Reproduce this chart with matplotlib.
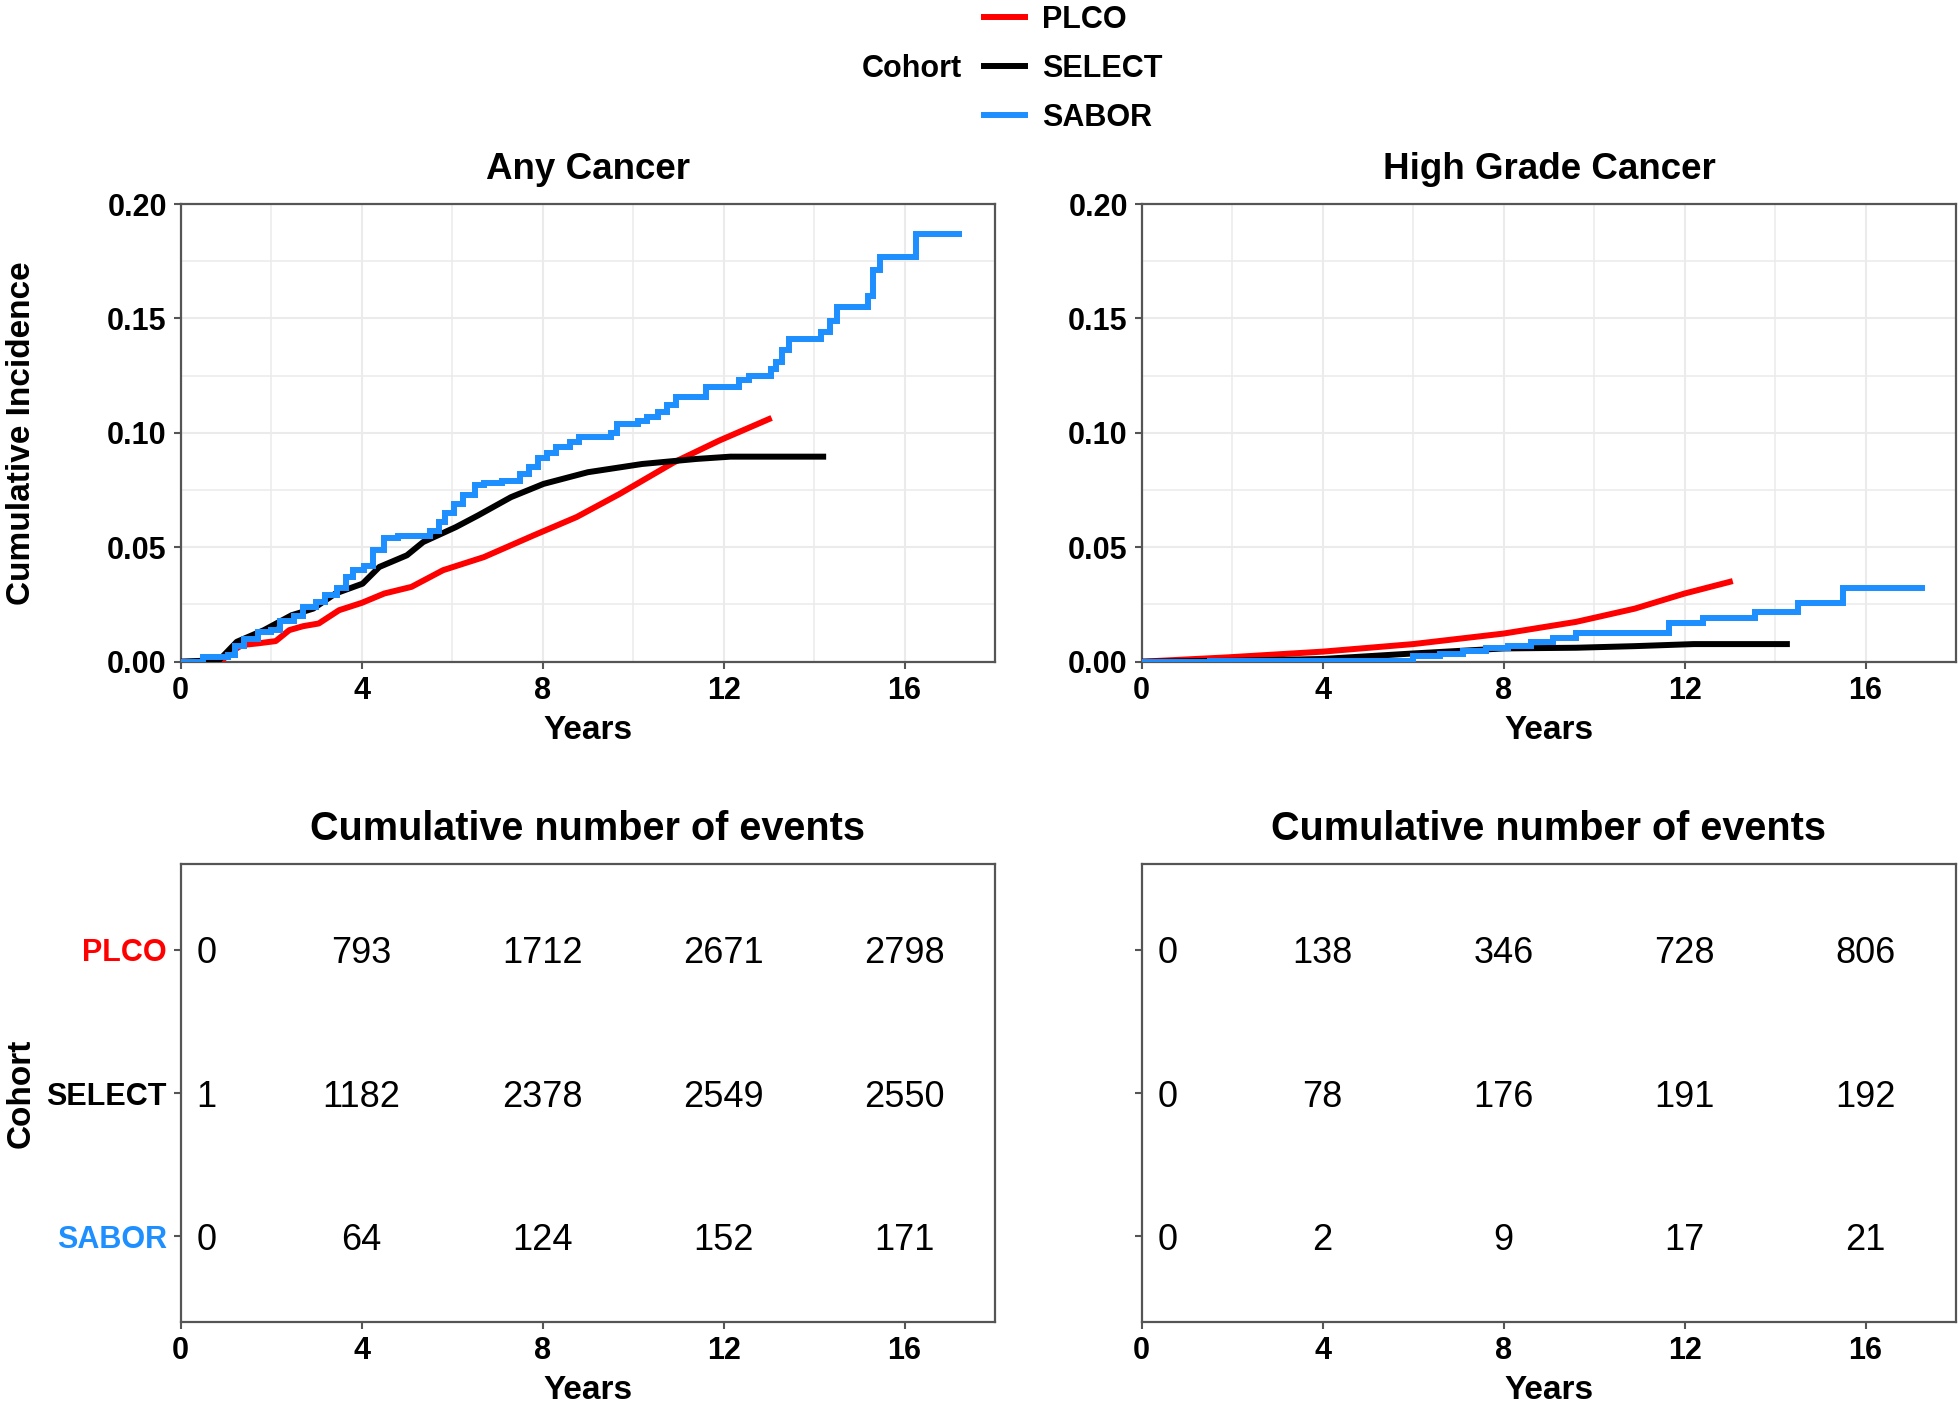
import matplotlib
matplotlib.use("Agg")
import matplotlib.pyplot as plt
from matplotlib.ticker import MultipleLocator

plt.rcParams['font.family'] = ['Liberation Sans', 'DejaVu Sans']

# ---------------- data ----------------
cohorts = ["PLCO", "SELECT", "SABOR"]
colors = {"PLCO": "#FF0000", "SELECT": "#000000", "SABOR": "#1E8FFF"}

# Any cancer cumulative incidence
plco_any_t = [0, 0.9, 1.05, 1.36, 1.7, 2.1, 2.4, 2.7, 3.05, 3.5, 4.0, 4.5, 5.1, 5.8, 6.7, 7.8, 8.75, 9.7, 10.9, 11.9, 13.0]
plco_any_y = [0, 0, 0.0036, 0.0073, 0.008, 0.009, 0.0138, 0.0155, 0.0167, 0.0225, 0.0257, 0.0298, 0.0327, 0.040, 0.0457, 0.0552, 0.0632, 0.0733, 0.0871, 0.0966, 0.106]

select_any_t = [0, 0.85, 1.24, 1.84, 2.45, 2.93, 3.42, 4.02, 4.39, 5.0, 5.36, 6.08, 6.57, 7.3, 8.02, 9.0, 10.2, 11.4, 12.15, 14.2]
select_any_y = [0, 0.0007, 0.0087, 0.0138, 0.0203, 0.0232, 0.0298, 0.0341, 0.0414, 0.0465, 0.0523, 0.0588, 0.0639, 0.0719, 0.0777, 0.0828, 0.0864, 0.0886, 0.0896, 0.0896]

sabor_any_t = [0, 0.5, 1.05, 1.2, 1.4, 1.7, 2.0, 2.2, 2.5, 2.7, 3.0, 3.2, 3.45, 3.65, 3.8, 4.05, 4.25, 4.5, 4.8, 5.5, 5.7, 5.85, 6.05, 6.25, 6.5, 6.7, 7.1, 7.5, 7.7, 7.9, 8.1, 8.3, 8.6, 8.8, 9.5, 9.65, 10.1, 10.3, 10.55, 10.75, 10.95, 11.6, 12.35, 12.55, 13.05, 13.15, 13.3, 13.45, 14.15, 14.35, 14.5, 15.2, 15.3, 15.45, 16.25, 17.2]
sabor_any_y = [0, 0.002, 0.003, 0.007, 0.010, 0.013, 0.014, 0.018, 0.020, 0.024, 0.026, 0.029, 0.032, 0.037, 0.040, 0.042, 0.049, 0.054, 0.055, 0.057, 0.061, 0.065, 0.069, 0.073, 0.077, 0.078, 0.079, 0.082, 0.085, 0.089, 0.091, 0.094, 0.096, 0.098, 0.100, 0.104, 0.105, 0.107, 0.109, 0.112, 0.1155, 0.120, 0.123, 0.125, 0.128, 0.131, 0.136, 0.141, 0.144, 0.149, 0.155, 0.160, 0.171, 0.177, 0.187, 0.187]

# High grade cumulative incidence
plco_hg_t = [0, 1.9, 4.0, 6.0, 8.0, 9.6, 10.9, 12.0, 13.0]
plco_hg_y = [0, 0.0019, 0.0044, 0.0077, 0.0123, 0.0174, 0.0232, 0.0298, 0.0349]

select_hg_t = [0, 2.0, 4.0, 6.0, 8.0, 9.6, 10.9, 12.2, 14.26]
select_hg_y = [0, 0.0004, 0.0012, 0.0036, 0.0058, 0.0061, 0.0068, 0.0077, 0.0077]

sabor_hg_t = [0, 1.5, 6.0, 6.6, 7.1, 7.6, 8.1, 8.6, 9.1, 9.6, 11.65, 12.4, 13.55, 14.5, 15.5, 17.25]
sabor_hg_y = [0, 0.0005, 0.0025, 0.0035, 0.0045, 0.0058, 0.007, 0.0087, 0.0105, 0.0126, 0.017, 0.0193, 0.0218, 0.0257, 0.0324, 0.0324]

# Risk tables (cumulative number of events)
table_times = [0, 4, 8, 12, 16]
events_any = {
    "PLCO": [0, 793, 1712, 2671, 2798],
    "SELECT": [1, 1182, 2378, 2549, 2550],
    "SABOR": [0, 64, 124, 152, 171],
}
events_hg = {
    "PLCO": [0, 138, 346, 728, 806],
    "SELECT": [0, 78, 176, 191, 192],
    "SABOR": [0, 2, 9, 17, 21],
}

y_ticks = [0.00, 0.05, 0.10, 0.15, 0.20]
y_ticklabels = ["0.00", "0.05", "0.10", "0.15", "0.20"]
x_ticks = [0, 4, 8, 12, 16]

# ---------------- style ----------------
BORDER = "#555555"
GRID = "#EBEBEB"
TICK_FS = 22
AXTITLE_FS = 24
TITLE_FS = 26.5
TABLE_TITLE_FS = 28.5
NUM_FS = 26
LW = 4.3

fig = plt.figure(figsize=(19.6, 14.04), dpi=100)

ax_any = fig.add_axes([0.0922, 0.5287, 0.4155, 0.3260])
ax_hg = fig.add_axes([0.5825, 0.5287, 0.4155, 0.3260])
tb_any = fig.add_axes([0.0922, 0.0582, 0.4155, 0.3264])
tb_hg = fig.add_axes([0.5825, 0.0582, 0.4155, 0.3264])


def style_axes(ax):
    for s in ax.spines.values():
        s.set_color(BORDER)
        s.set_linewidth(1.6)
    ax.tick_params(axis='both', which='major', length=5, width=1.5, color=BORDER,
                   labelsize=TICK_FS, pad=5)
    ax.tick_params(axis='both', which='minor', length=0)
    for lab in ax.get_xticklabels() + ax.get_yticklabels():
        lab.set_fontweight('bold')


def curve_panel(ax, title, series, ylabel=None):
    ax.set_xlim(0, 18)
    ax.set_ylim(0, 0.20)
    ax.set_xticks(x_ticks)
    ax.set_xticklabels([str(t) for t in x_ticks])
    ax.set_yticks(y_ticks)
    ax.set_yticklabels(y_ticklabels)
    ax.xaxis.set_minor_locator(MultipleLocator(2))
    ax.yaxis.set_minor_locator(MultipleLocator(0.025))
    ax.grid(True, which='major', color=GRID, lw=1.5, zorder=0)
    ax.grid(True, which='minor', color=GRID, lw=1.1, zorder=0)
    ax.set_axisbelow(True)
    handles = []
    for name, (t, y, kind) in series.items():
        if kind == 'step':
            h, = ax.step(t, y, where='post', color=colors[name], lw=LW, label=name,
                         solid_joinstyle='miter', zorder=3)
        else:
            h, = ax.plot(t, y, color=colors[name], lw=LW, label=name, zorder=3)
        handles.append(h)
    ax.set_title(title, fontsize=TITLE_FS, fontweight='bold', pad=18)
    ax.set_xlabel("Years", fontsize=AXTITLE_FS, fontweight='bold', labelpad=7)
    if ylabel:
        ax.set_ylabel(ylabel, fontsize=AXTITLE_FS, fontweight='bold')
    style_axes(ax)
    return handles


handles = curve_panel(ax_any, "Any Cancer", {
    "PLCO": (plco_any_t, plco_any_y, 'line'),
    "SELECT": (select_any_t, select_any_y, 'line'),
    "SABOR": (sabor_any_t, sabor_any_y, 'step'),
}, ylabel="Cumulative Incidence")

curve_panel(ax_hg, "High Grade Cancer", {
    "PLCO": (plco_hg_t, plco_hg_y, 'line'),
    "SELECT": (select_hg_t, select_hg_y, 'line'),
    "SABOR": (sabor_hg_t, sabor_hg_y, 'step'),
})


def table_panel(ax, events, show_labels):
    ax.set_xlim(0, 18)
    ax.set_ylim(3.6, 0.4)
    ax.set_xticks(x_ticks)
    ax.set_xticklabels([str(t) for t in x_ticks])
    ypos = list(range(1, len(cohorts) + 1))
    ax.set_yticks(ypos)
    if show_labels:
        ax.set_yticklabels(cohorts)
    else:
        ax.set_yticklabels([""] * len(cohorts))
    for i, name in enumerate(cohorts):
        for t, v in zip(table_times, events[name]):
            xp = t if t > 0 else 0.57
            ax.text(xp, ypos[i], str(v), ha='center', va='center_baseline',
                    fontsize=NUM_FS, color='black')
    ax.set_title("Cumulative number of events", fontsize=TABLE_TITLE_FS,
                 fontweight='bold', pad=17)
    ax.set_xlabel("Years", fontsize=AXTITLE_FS, fontweight='bold', labelpad=6)
    style_axes(ax)
    if show_labels:
        ax.set_ylabel("Cohort", fontsize=AXTITLE_FS, fontweight='bold')
        for lab, name in zip(ax.get_yticklabels(), cohorts):
            lab.set_color(colors[name])
            lab.set_fontweight('bold')


table_panel(tb_any, events_any, True)
table_panel(tb_hg, events_hg, False)

# Legend at the top
leg = fig.legend(handles=handles, labels=cohorts, loc='center left',
                 bbox_to_anchor=(0.502, 0.9510), frameon=False, fontsize=22,
                 borderpad=0, borderaxespad=0, handlelength=1.34,
                 handletextpad=0.55, labelspacing=0.63)
for txt in leg.get_texts():
    txt.set_fontweight('bold')
fig.text(0.491, 0.9510, "Cohort", ha='right', va='center', fontsize=22,
         fontweight='bold')

# y-axis title positions (far left, as in the reference)
ax_any.yaxis.set_label_coords(-0.177, 0.5)
tb_any.yaxis.set_label_coords(-0.177, 0.5)

fig.savefig("out.png", dpi=100)
